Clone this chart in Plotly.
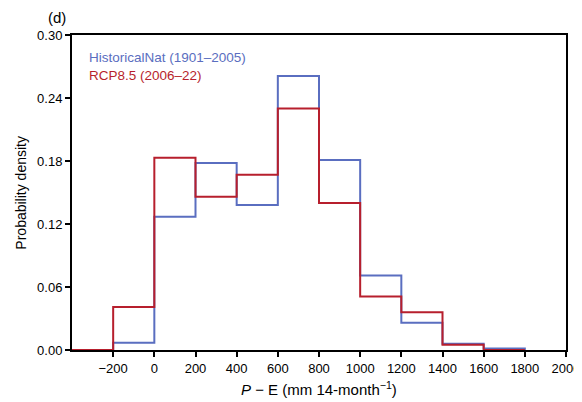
import plotly.graph_objects as go

# Bin edges (mm 14-month^-1)
blue_edges = [-200, 0, 200, 400, 600, 800, 1000, 1200, 1400, 1600, 1800]
red_edges = [-400, -200, 0, 200, 400, 600, 800, 1000, 1200, 1400, 1600, 1800]

# Probability density per bin
hist_nat = [0.007, 0.127, 0.178, 0.138, 0.261, 0.181, 0.071, 0.026, 0.006, 0.0015]
rcp85 = [0.0, 0.041, 0.183, 0.146, 0.167, 0.230, 0.140, 0.051, 0.036, 0.005, 0.0]

x_ticks = [-200, 0, 200, 400, 600, 800, 1000, 1200, 1400, 1600, 1800, 2000]
y_ticks = [0.0, 0.06, 0.12, 0.18, 0.24, 0.30]

BLUE = "#5a6ec0"
RED = "#b71f2d"


def step_xy(edges, vals):
    xs = [edges[0]] + list(edges)
    ys = [0] + list(vals) + [0]
    return xs, ys


fig = go.Figure()
bx, by = step_xy(blue_edges, hist_nat)
rx, ry = step_xy(red_edges, rcp85)
fig.add_trace(go.Scatter(x=bx, y=by, mode="lines", line=dict(color=BLUE, width=2, shape="hv"),
                         name="HistoricalNat (1901–2005)", showlegend=False))
fig.add_trace(go.Scatter(x=rx, y=ry, mode="lines", line=dict(color=RED, width=2, shape="hv"),
                         name="RCP8.5 (2006–22)", showlegend=False))

axis_common = dict(showgrid=False, zeroline=False, showline=True, linecolor="black", linewidth=2,
                   mirror=True, ticks="outside", ticklen=5, tickwidth=1.5, tickcolor="black",
                   tickfont=dict(size=13, color="black"), automargin=False)

fig.update_xaxes(range=[-400, 2000], tickvals=x_ticks,
                 ticktext=[("−" + str(-v)) if v < 0 else str(v) for v in x_ticks],
                 **axis_common)
fig.update_yaxes(range=[0, 0.30], tickvals=y_ticks, ticktext=[f"{v:.2f}" for v in y_ticks],
                 **axis_common)

fig.add_annotation(x=-0.105, y=0.5, xref="paper", yref="paper", text="Probability density", showarrow=False,
                   textangle=-90, xanchor="center", yanchor="middle", font=dict(size=14, color="black"))
fig.add_annotation(x=0.5, y=-0.122, xref="paper", yref="paper",
                   text="<i>P</i> − E (mm 14-month<sup>−1</sup>)", showarrow=False,
                   xanchor="center", yanchor="middle", font=dict(size=15, color="black"))
fig.add_annotation(x=-0.052, y=1.057, xref="paper", yref="paper", text="(d)", showarrow=False,
                   xanchor="left", yanchor="middle", font=dict(size=15, color="black"))
fig.add_annotation(x=0.03, y=0.927, xref="paper", yref="paper", text="HistoricalNat (1901–2005)", showarrow=False,
                   xanchor="left", yanchor="middle", font=dict(size=13.5, color=BLUE))
fig.add_annotation(x=0.03, y=0.870, xref="paper", yref="paper", text="RCP8.5 (2006–22)", showarrow=False,
                   xanchor="left", yanchor="middle", font=dict(size=13.5, color=RED))

# page body has an 8px default margin, so the figure is 8px smaller and margins shifted
fig.update_layout(width=574, height=394, margin=dict(l=64, r=16, t=27, b=52),
                  plot_bgcolor="white", paper_bgcolor="white",
                  font=dict(family="Liberation Sans, Arial, sans-serif", color="black"))

fig.write_html("out.html")
